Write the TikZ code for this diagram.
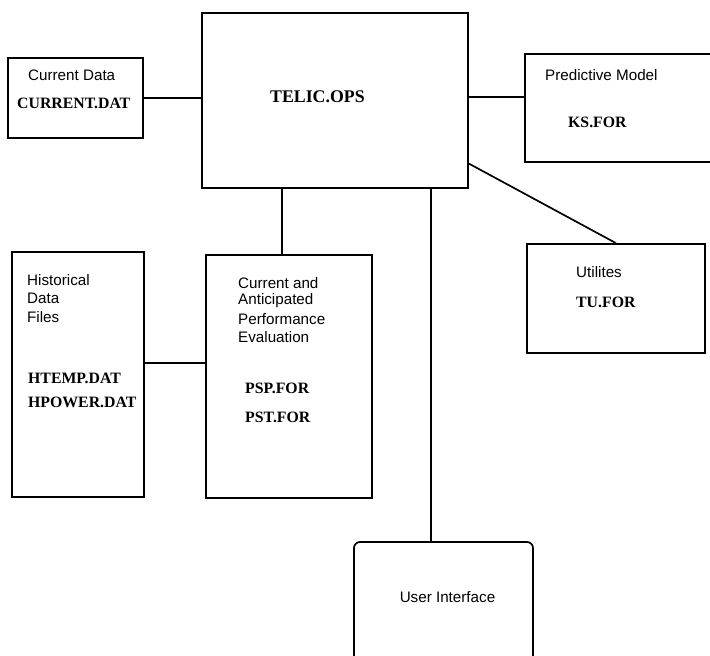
\documentclass[tikz,border=0pt]{standalone}
\usepackage{fontspec}
\setmainfont{Liberation Serif}
\setsansfont{Liberation Sans}
\usetikzlibrary{calc}
\tikzset{
  box/.style={draw, line width=1.7pt, inner sep=0pt, rectangle},
  rbox/.style={box, rounded corners=6pt},
  link/.style={line width=1.7pt},
  lab/.style={anchor=west, inner sep=0pt, font=\sffamily\fontsize{15.2}{18}\selectfont},
  fname/.style={anchor=west, inner sep=0pt, font=\rmfamily\bfseries\fontsize{15.8}{19}\selectfont},
}
\begin{document}
\begin{tikzpicture}[x=1pt,y=-1pt]
\useasboundingbox[fill=white] (0,0) rectangle (710,656);
% boxes
\node[box, minimum width=135pt, minimum height=80pt] (cur) at (75.5,98) {};
\node[box, minimum width=266pt, minimum height=175pt] (telic) at (335,100.5) {};
\node[box, minimum width=200pt, minimum height=108pt] (pred) at (625,108) {};
\node[box, minimum width=178pt, minimum height=109pt] (util) at (616,298.5) {};
\node[box, minimum width=132pt, minimum height=245pt] (hist) at (78,374.5) {};
\node[box, minimum width=166pt, minimum height=243pt] (perf) at (289,376.5) {};
\node[rbox, minimum width=179pt, minimum height=138pt] (ui) at (443.5,611) {};
% texts
\node[lab] (t1) at (28,75) {Current Data};
\node[fname] (t2) at (17,103) {CURRENT.DAT};
\node[fname, font=\rmfamily\bfseries\fontsize{17.8}{21}\selectfont] (t3) at (270,97) {TELIC.OPS};
\node[lab] (t4) at (545,75) {Predictive Model};
\node[fname] (t5) at (568,122) {KS.FOR};
\node[lab] (t6) at (576,272) {Utilites};
\node[fname] (t7) at (576,302) {TU.FOR};
\node[lab] (t8) at (27,280) {Historical};
\node[lab] (t9) at (27,298.5) {Data};
\node[lab] (t10) at (27,317) {Files};
\node[fname] (t11) at (28,378) {HTEMP.DAT};
\node[fname] (t12) at (28,402) {HPOWER.DAT};
\node[lab] (t13) at (238,283) {Current and};
\node[lab] (t14) at (238,301) {Anticipated};
\node[lab] (t15) at (238,319) {Performance};
\node[lab] (t16) at (238,337.5) {Evaluation};
\node[fname] (t17) at (245,388) {PSP.FOR};
\node[fname] (t18) at (245,417) {PST.FOR};
\node[lab, anchor=center] (t19) at (447.5,597) {User Interface};
% connectors
\draw[link] (cur.east) -- (cur.east -| telic.west);
\coordinate (a1) at ($(telic.south east)!0.52!(telic.north east)$);
\draw[link] (a1) -- (a1 -| pred.west);
\draw[link] ($(telic.south east)!0.143!(telic.north east)$) -- (util.north);
\coordinate (p1) at ($(perf.north west)!0.458!(perf.north east)$);
\draw[link] (p1) -- (p1 |- telic.south);
\coordinate (p2) at ($(ui.north west)!0.43!(ui.north east)$);
\draw[link] (p2) -- (p2 |- telic.south);
\coordinate (p3) at ($(hist.south east)!0.547!(hist.north east)$);
\draw[link] (p3) -- (p3 -| perf.west);
\end{tikzpicture}
\end{document}
